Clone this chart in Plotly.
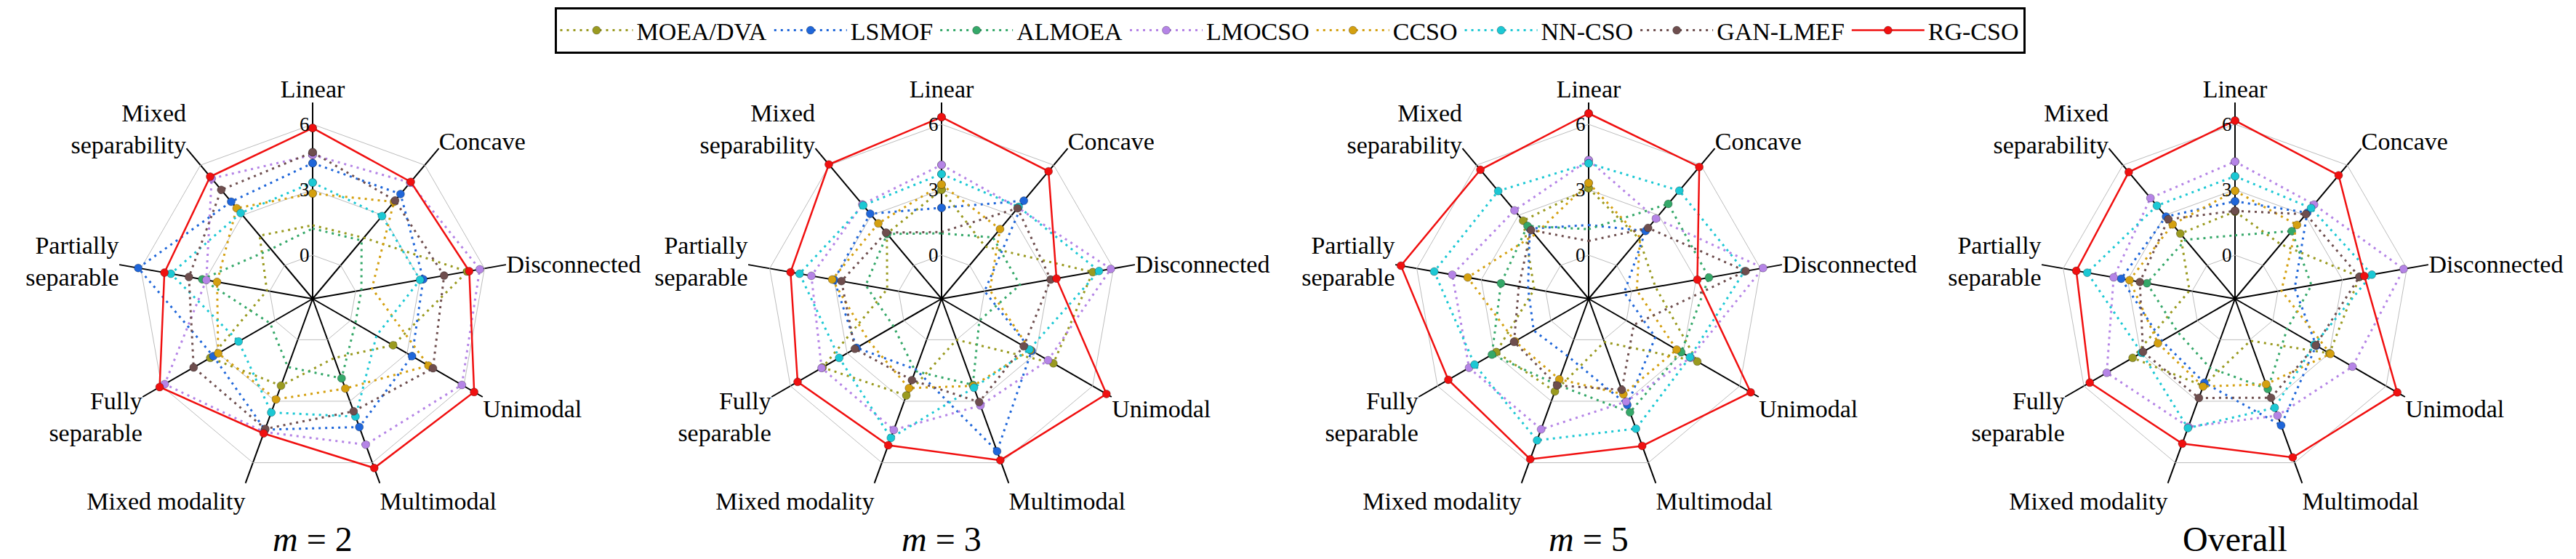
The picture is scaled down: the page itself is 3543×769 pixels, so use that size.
import plotly.graph_objects as go

categories = ["Linear", "Concave", "Disconnected", "Unimodal", "Multimodal",
              "Mixed modality", "Fully separable", "Partially separable", "Mixed separability"]
cat_labels = ["Linear", "Concave", "Disconnected", "Unimodal", "Multimodal",
              "Mixed modality", "Fully<br>separable", "Partially<br>separable", "Mixed<br>separability"]

algorithms = ["MOEA/DVA", "LSMOF", "ALMOEA", "LMOCSO", "CCSO", "NN-CSO", "GAN-LMEF", "RG-CSO"]
colors = ["#9a9a20", "#1f66d9", "#35a869", "#b584e6", "#d4a010", "#1cc8d4", "#6e4e4e", "#f01010"]

panel_titles = ["<i>m</i> = 2", "<i>m</i> = 3", "<i>m</i> = 5", "Overall"]

# values per panel, per algorithm (order of categories above)
m2_moeadva = [1.37, 1.65, 5.2, 2.26, 0.89, 2.24, 3.42, 0.13, 1.78]
m2_lsmof = [4.22, 4.27, 3.15, 3.26, 4.26, 4.39, 3.26, 6.12, 3.81]
m2_almoea = [1.22, 1.49, 0.27, 0.26, 1.88, 1.33, 0.25, 3.14, 0.97]
m2_lmocso = [4.6, 4.95, 5.78, 5.9, 5.12, 4.5, 5.83, 2.95, 5.2]
m2_ccso = [2.83, 3.8, 0.76, 4.13, 2.38, 2.91, 3.0, 2.45, 3.42]
m2_nncso = [3.33, 2.95, 3.0, 1.38, 3.75, 3.55, 1.92, 4.6, 3.13]
m2_ganlmef = [4.72, 3.88, 4.12, 4.37, 3.49, 4.35, 4.3, 3.76, 4.52]
m2_rgcso = [5.83, 5.0, 5.29, 6.55, 6.26, 4.57, 6.1, 4.9, 5.31]

m3_moeadva = [3.0, 1.12, 5.04, 3.92, 0.0, 2.72, 4.3, 0.53, 1.9]
m3_lsmof = [2.17, 3.87, 0.0, 2.77, 5.44, 1.45, 2.5, 3.0, 3.09]
m3_almoea = [1.0, 1.67, 1.65, 0.0, 2.2, 1.53, 0.54, 1.53, 1.88]
m3_lmocso = [4.14, 3.45, 5.88, 3.64, 3.21, 4.4, 4.35, 4.06, 3.65]
m3_ccso = [3.24, 2.17, 0.25, 2.7, 2.25, 2.36, 1.86, 3.09, 2.51]
m3_nncso = [3.72, 3.5, 5.33, 2.65, 2.34, 4.79, 3.42, 4.61, 3.59]
m3_ganlmef = [1.06, 3.42, 3.08, 2.35, 3.04, 1.97, 2.59, 2.66, 1.96]
m3_rgcso = [6.33, 5.63, 3.35, 6.73, 5.88, 5.15, 5.62, 5.03, 6.04]

m5_moeadva = [3.07, 1.6, 1.11, 3.75, 0.11, 2.52, 2.89, 0.53, 2.67]
m5_lsmof = [1.38, 2.06, -0.34, 1.53, 3.18, 0.8, 0.91, 0.82, 2.2]
m5_almoea = [1.19, 3.68, 3.6, 2.9, 3.54, 2.2, 3.12, 2.08, 2.36]
m5_lmocso = [4.36, 2.8, 6.12, 3.4, 3.02, 4.37, 4.33, 4.35, 3.29]
m5_ccso = [3.31, 1.67, 0.24, 2.66, 2.66, 1.93, 1.9, 3.63, 1.84]
m5_nncso = [4.21, 4.47, 5.25, 3.36, 4.34, 4.91, 4.04, 5.19, 4.45]
m5_ganlmef = [0.65, 2.24, 5.31, 0.39, 2.44, 2.23, 1.95, 1.25, 2.11]
m5_rgcso = [6.5, 5.89, 3.06, 6.58, 5.18, 5.83, 5.43, 6.74, 5.72]

all_moeadva = [2.0, 1.26, 3.8, 3.0, 0.05, 2.25, 3.42, 0.12, 1.9]
all_lsmof = [2.47, 3.15, 0.78, 2.3, 4.18, 2.1, 1.87, 3.3, 2.92]
all_almoea = [0.91, 2.05, 1.56, 0.76, 2.4, 1.37, 1.04, 2.1, 1.53]
all_lmocso = [4.29, 3.64, 5.85, 4.22, 3.7, 4.25, 4.79, 3.65, 4.03]
all_ccso = [2.95, 2.42, 0.16, 3.05, 2.17, 2.28, 2.08, 2.91, 2.45]
all_nncso = [3.62, 3.43, 4.37, 2.2, 3.32, 4.31, 2.95, 4.88, 3.57]
all_ganlmef = [2.03, 3.06, 3.79, 2.27, 2.83, 2.84, 2.87, 2.43, 2.76]
all_rgcso = [6.17, 5.39, 4.02, 6.59, 5.74, 5.07, 5.69, 5.39, 5.58]

panels = [
    [m2_moeadva, m2_lsmof, m2_almoea, m2_lmocso, m2_ccso, m2_nncso, m2_ganlmef, m2_rgcso],
    [m3_moeadva, m3_lsmof, m3_almoea, m3_lmocso, m3_ccso, m3_nncso, m3_ganlmef, m3_rgcso],
    [m5_moeadva, m5_lsmof, m5_almoea, m5_lmocso, m5_ccso, m5_nncso, m5_ganlmef, m5_rgcso],
    [all_moeadva, all_lsmof, all_almoea, all_lmocso, all_ccso, all_nncso, all_ganlmef, all_rgcso],
]

radial_ticks = [0, 3, 6]

W, H = 3543, 769
centers_x = [422, 1287, 2177, 3066]
center_y = 403
R = 270
FONT = "Liberation Serif"

fig = go.Figure()
for p, series in enumerate(panels):
    pid = "polar" if p == 0 else f"polar{p+1}"
    for a, (name, col, vals) in enumerate(zip(algorithms, colors, series)):
        is_main = name == "RG-CSO"
        fig.add_trace(go.Scatterpolar(
            r=vals + [vals[0]],
            theta=categories + [categories[0]],
            mode="lines+markers",
            name=name,
            subplot=pid,
            showlegend=(p == 0),
            line=dict(color=col, width=2.5 if is_main else 3,
                      dash="solid" if is_main else "3px,6px"),
            marker=dict(color=col, size=11,
                        line=dict(color="rgba(0,0,0,0.35)", width=0.8)),
        ))
    cx = centers_x[p]
    dom_x = [(cx - R) / W, (cx + R) / W]
    dom_y = [1 - (center_y + R) / H, 1 - (center_y - R) / H]
    fig.layout[pid] = dict(
        domain=dict(x=dom_x, y=dom_y),
        bgcolor="white",
        gridshape="linear",
        radialaxis=dict(
            range=[-2, 7], tickvals=radial_ticks, ticktext=[str(t) for t in radial_ticks],
            angle=90, tickangle=90, side="counterclockwise", showline=False, ticks="",
            gridcolor="#bdbdbd", gridwidth=1,
            tickfont=dict(family=FONT, size=27, color="black"),
        ),
        angularaxis=dict(
            direction="clockwise", rotation=90,
            categoryorder="array", categoryarray=categories,
            tickvals=categories, ticktext=cat_labels,
            showline=False, ticks="",
            gridcolor="black", gridwidth=1.5,
            tickfont=dict(family=FONT, size=34, color="black"),
        ),
    )
    fig.add_annotation(
        x=cx / W, y=1 - 733 / H, xref="paper", yref="paper",
        text=panel_titles[p], showarrow=False,
        font=dict(family=FONT, size=48, color="black"),
        xanchor="center", yanchor="middle",
    )

fig.update_layout(
    width=W, height=H,
    margin=dict(l=0, r=0, t=0, b=0),
    paper_bgcolor="white", plot_bgcolor="white",
    legend=dict(
        orientation="h", x=1766 / W, xanchor="center", y=1 - 2 / H, yanchor="top",
        bordercolor="black", borderwidth=3, bgcolor="white",
        font=dict(family=FONT, size=34, color="black"),
        itemwidth=100, tracegroupgap=0,
    ),
)

fig.write_html("out.html")
